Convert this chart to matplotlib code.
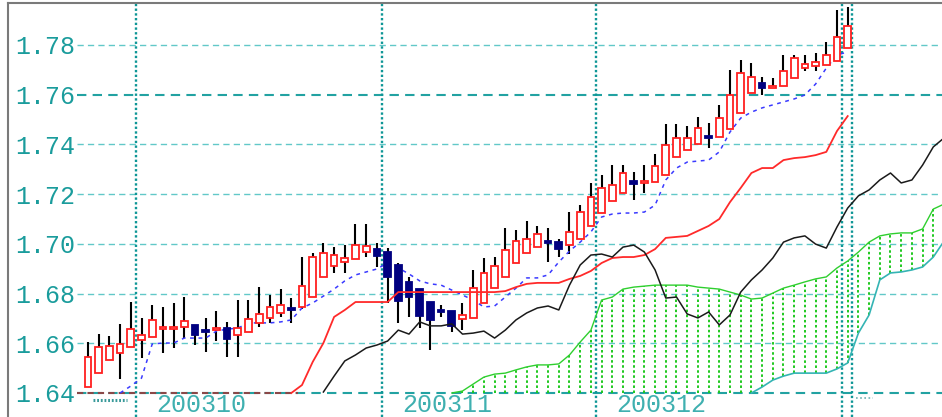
import numpy as np
import matplotlib
matplotlib.use("Agg")
import matplotlib.pyplot as plt
from matplotlib.lines import Line2D

#---Data (daily bars Oct-Dec 2003)
opens = [1.6424, 1.6480, 1.6533, 1.6561, 1.6585, 1.6613, 1.6625, 1.6657, 1.6657, 1.6666,
         1.6674, 1.6653, 1.6653, 1.6661, 1.6633, 1.6645, 1.6682, 1.6702, 1.6722, 1.6742,
         1.6746, 1.6786, 1.6867, 1.6911, 1.6927, 1.6939, 1.6967, 1.6979, 1.6967, 1.6915,
         1.6847, 1.6818, 1.6766, 1.6734, 1.6730, 1.6698, 1.6702, 1.6762, 1.6822, 1.6867,
         1.6923, 1.6963, 1.6987, 1.7011, 1.7007, 1.6995, 1.7019, 1.7072, 1.7124, 1.7172,
         1.7205, 1.7253, 1.7245, 1.7249, 1.7277, 1.7349, 1.7378, 1.7402, 1.7434, 1.7430,
         1.7462, 1.7526, 1.7607, 1.7647, 1.7627, 1.7635, 1.7667, 1.7708, 1.7716, 1.7720,
         1.7736, 1.7788]
highs = [1.6605, 1.6637, 1.6629, 1.6678, 1.6766, 1.6702, 1.6754, 1.6746, 1.6762, 1.6786,
         1.6674, 1.6702, 1.6730, 1.6686, 1.6774, 1.6774, 1.6826, 1.6794, 1.6818, 1.6782,
         1.6947, 1.6963, 1.7003, 1.6987, 1.6995, 1.7080, 1.7080, 1.7003, 1.6983, 1.6923,
         1.6867, 1.6818, 1.6766, 1.6754, 1.6730, 1.6762, 1.6895, 1.6943, 1.6947, 1.7064,
         1.7056, 1.7092, 1.7072, 1.7064, 1.7019, 1.7128, 1.7156, 1.7245, 1.7277, 1.7317,
         1.7317, 1.7289, 1.7317, 1.7362, 1.7482, 1.7482, 1.7474, 1.7510, 1.7486, 1.7559,
         1.7699, 1.7740, 1.7728, 1.7671, 1.7667, 1.7760, 1.7760, 1.7760, 1.7768, 1.7812,
         1.7941, 1.7953]
lows = [1.6424, 1.6480, 1.6533, 1.6456, 1.6585, 1.6541, 1.6625, 1.6561, 1.6581, 1.6621,
        1.6593, 1.6565, 1.6609, 1.6545, 1.6545, 1.6645, 1.6666, 1.6682, 1.6706, 1.6682,
        1.6738, 1.6786, 1.6867, 1.6883, 1.6883, 1.6939, 1.6947, 1.6907, 1.6762, 1.6682,
        1.6706, 1.6661, 1.6573, 1.6706, 1.6645, 1.6653, 1.6702, 1.6762, 1.6822, 1.6867,
        1.6923, 1.6963, 1.6987, 1.6927, 1.6947, 1.6959, 1.7019, 1.7072, 1.7124, 1.7172,
        1.7205, 1.7176, 1.7205, 1.7249, 1.7277, 1.7349, 1.7378, 1.7402, 1.7386, 1.7430,
        1.7462, 1.7526, 1.7607, 1.7599, 1.7627, 1.7635, 1.7667, 1.7695, 1.7695, 1.7720,
        1.7736, 1.7788]
closes = [1.6545, 1.6585, 1.6589, 1.6597, 1.6657, 1.6633, 1.6694, 1.6666, 1.6666, 1.6690,
          1.6633, 1.6645, 1.6661, 1.6617, 1.6661, 1.6698, 1.6718, 1.6746, 1.6754, 1.6734,
          1.6830, 1.6947, 1.6963, 1.6955, 1.6943, 1.6995, 1.6991, 1.6951, 1.6867, 1.6770,
          1.6786, 1.6710, 1.6694, 1.6726, 1.6670, 1.6714, 1.6822, 1.6883, 1.6911, 1.6975,
          1.7011, 1.7020, 1.7040, 1.7003, 1.6979, 1.7048, 1.7128, 1.7189, 1.7225, 1.7237,
          1.7285, 1.7241, 1.7253, 1.7313, 1.7398, 1.7426, 1.7426, 1.7466, 1.7426, 1.7506,
          1.7599, 1.7687, 1.7671, 1.7627, 1.7635, 1.7695, 1.7748, 1.7724, 1.7732, 1.7760,
          1.7832, 1.7876]

# conversion line (blue dashed), starts at bar 3
tenkan_start = 3
tenkan = [1.6400, 1.6428, 1.6460, 1.6597, 1.6601, 1.6601, 1.6621, 1.6621, 1.6621, 1.6649,
          1.6657, 1.6661, 1.6682, 1.6682, 1.6682, 1.6686, 1.6694, 1.6742, 1.6762, 1.6790,
          1.6818, 1.6851, 1.6875, 1.6887, 1.6899, 1.6923, 1.6903, 1.6879, 1.6851, 1.6839,
          1.6834, 1.6814, 1.6794, 1.6774, 1.6746, 1.6750, 1.6786, 1.6822, 1.6863, 1.6863,
          1.6875, 1.6927, 1.6971, 1.7007, 1.7048, 1.7108, 1.7120, 1.7124, 1.7124, 1.7128,
          1.7156, 1.7257, 1.7305, 1.7329, 1.7333, 1.7337, 1.7370, 1.7450, 1.7506, 1.7530,
          1.7547, 1.7559, 1.7571, 1.7583, 1.7599, 1.7643, 1.7707, 1.7760, 1.7772]

# base line (red), starts at bar 19
kijun_start = 19
kijun = [1.6400, 1.6432, 1.6525, 1.6601, 1.6706, 1.6734, 1.6766, 1.6766, 1.6766, 1.6766,
         1.6806, 1.6806, 1.6806, 1.6806, 1.6806, 1.6806, 1.6806, 1.6806, 1.6806, 1.6806,
         1.6810, 1.6826, 1.6839, 1.6843, 1.6843, 1.6843, 1.6859, 1.6871, 1.6891, 1.6923,
         1.6943, 1.6947, 1.6947, 1.6955, 1.6979, 1.7024, 1.7028, 1.7032, 1.7052, 1.7072,
         1.7100, 1.7168, 1.7225, 1.7285, 1.7305, 1.7305, 1.7337, 1.7345, 1.7349, 1.7357,
         1.7370, 1.7454, 1.7514]

# black line, starts at bar 22
lag_start = 22
lagging = [1.6404, 1.6468, 1.6529, 1.6553, 1.6581, 1.6593, 1.6609, 1.6653, 1.6637, 1.6686,
           1.6670, 1.6670, 1.6678, 1.6637, 1.6641, 1.6649, 1.6621, 1.6653, 1.6694, 1.6722,
           1.6742, 1.6750, 1.6734, 1.6834, 1.6915, 1.6955, 1.6959, 1.6947, 1.6987, 1.6995,
           1.6967, 1.6895, 1.6782, 1.6786, 1.6718, 1.6702, 1.6726, 1.6674, 1.6714, 1.6806,
           1.6855, 1.6895, 1.6943, 1.7007, 1.7024, 1.7032, 1.6999, 1.6983, 1.7068, 1.7144,
           1.7193, 1.7217, 1.7257, 1.7285, 1.7245, 1.7257, 1.7317, 1.7390, 1.7426]

# cloud spans, start at bar 34
span_start = 34
span_a = [1.6400, 1.6408, 1.6436, 1.6464, 1.6476, 1.6480, 1.6493, 1.6505, 1.6513, 1.6513,
          1.6517, 1.6553, 1.6605, 1.6653, 1.6774, 1.6786, 1.6818, 1.6826, 1.6830, 1.6834,
          1.6834, 1.6834, 1.6834, 1.6826, 1.6822, 1.6818, 1.6806, 1.6794, 1.6778, 1.6782,
          1.6802, 1.6822, 1.6834, 1.6847, 1.6859, 1.6867, 1.6903, 1.6931, 1.6967, 1.7007,
          1.7032, 1.7040, 1.7044, 1.7044, 1.7060, 1.7140, 1.7160]
span_b = [1.6400] * 29 + [1.6424, 1.6452, 1.6468, 1.6480, 1.6480, 1.6480, 1.6480, 1.6497,
                          1.6521, 1.6641, 1.6714, 1.6855, 1.6883, 1.6887, 1.6895, 1.6907,
                          1.6947, 1.7011]

price_ticks = [1.64, 1.66, 1.68, 1.70, 1.72, 1.74, 1.76, 1.78]
tick_labels = ["1.64", "1.66", "1.68", "1.70", "1.72", "1.74", "1.76", "1.78"]
month_bounds = [4.5, 27.5, 47.5, 70.5]
month_labels = ["200310", "200311", "200312"]

#---Figure
W, H = 942, 417
fig = plt.figure(figsize=(W / 100, H / 100), dpi=100)
fig.patch.set_facecolor("white")
ax = fig.add_axes([77 / W, 0, 1 - 77 / W, 414 / H])

px_per = 348 / 0.14      # pixels per price unit
bar_px = 10.7            # pixels per bar
floor = 1.64
ax.set_ylim(floor - 24 / px_per, floor + 390 / px_per)
ax.set_xlim(-11 / bar_px, (W - 88) / bar_px)
for s in ax.spines.values():
    s.set_visible(False)
ax.set_xticks([])
ax.set_yticks(price_ticks)
ax.set_yticklabels(tick_labels, fontfamily="Liberation Mono", fontsize=18, color="#1a9c9c")
ax.tick_params(axis="y", length=0, pad=1)

# grid
for p in price_ticks:
    col, lw = "#62c8c8", 1.0
    if p == 1.76 or p == floor:
        col, lw = "#22a2a2", 1.5
    ax.axhline(p, color=col, lw=lw, ls=(0, (4.5, 3)), zorder=0.5)
ax.hlines(floor, ax.get_xlim()[0], kijun_start + 0.6, color="#8a4848", lw=1.5,
          ls=(0, (3, 2)), zorder=0.6)
for m in month_bounds + [len(closes) - 0.6]:
    ax.axvline(m, color="#0e9696", lw=1.7, ls=(0, (1, 1)), zorder=0.7)

# month labels
for m, lab in zip(month_bounds, month_labels):
    ax.text(m + 1.9, floor - 12 / px_per, lab, fontfamily="Liberation Mono", fontsize=18,
            color="#3fb0b0", ha="left", va="center")

# small marks at the bottom
ax.plot([0.5, 3.6], [floor - 7 / px_per] * 2, color="#3a9a9a", lw=2.2, ls=(0, (0.6, 0.6)))
ax.plot([71.8, 73.4], [floor - 5 / px_per] * 2, color="#70b0b0", lw=1.2, ls=(0, (1, 1.5)))

# cloud
sx = np.arange(span_start, span_start + len(span_a))
sa = np.array(span_a)
sb = np.array(span_b)
hatch = sa > sb + 0.0005
ax.vlines(sx[hatch], sb[hatch], sa[hatch], colors="#1ec81e", lw=1.4,
          linestyles=(0, (1.3, 1.3)), zorder=1)
ax.plot(sx, sa, color="#2fcf2f", lw=1.0, zorder=1.2)
b0 = max(np.argmax(sb > floor) - 1, 0)
ax.plot(sx[b0:], sb[b0:], color="#34b4b4", lw=1.2, zorder=1.2)

# candles
x = np.arange(len(closes))
o = np.array(opens)
c = np.array(closes)
up = c >= o
ax.vlines(x, lows, highs, color="black", lw=1.5, zorder=2)
h = np.maximum(np.abs(c - o), 0.0006)
bottom = (o + c) / 2 - h / 2
ax.bar(x[up], h[up], bottom=bottom[up], width=0.62, facecolor="white",
       edgecolor="#ff2020", lw=1.3, zorder=3)
ax.bar(x[~up], h[~up], bottom=bottom[~up], width=0.62, facecolor="#000080",
       edgecolor="#000080", lw=1.3, zorder=3)

# indicator lines
ax.plot(np.arange(tenkan_start, tenkan_start + len(tenkan)), tenkan, color="#3a3aff",
        lw=1.1, ls=(0, (2.5, 3)), zorder=2.5)
ax.plot(np.arange(kijun_start, kijun_start + len(kijun)), kijun, color="#ff2a2a",
        lw=1.3, zorder=4)
ax.plot(np.arange(lag_start, lag_start + len(lagging)), lagging, color="#1a1a1a",
        lw=1.1, zorder=4)

# outer frame (left and top)
fig.add_artist(Line2D([8 / W, 8 / W], [0, 1 - 3 / H], color="#7a7a7a", lw=1.5))
fig.add_artist(Line2D([8 / W, 1], [1 - 3 / H, 1 - 3 / H], color="#7a7a7a", lw=1.5))

fig.savefig("out.png", dpi=100, facecolor="white")
